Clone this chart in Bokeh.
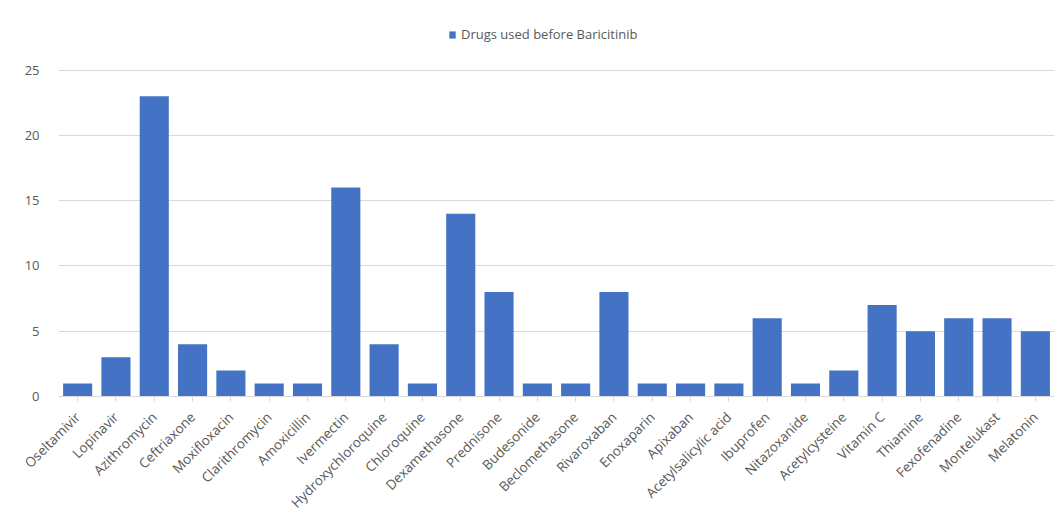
import math
from bokeh.plotting import figure
from bokeh.models import ColumnDataSource, Legend, LegendItem, FactorRange, SingleIntervalTicker
from bokeh.embed import file_html
from bokeh.resources import INLINE

drugs = ["Oseltamivir", "Lopinavir", "Azithromycin", "Ceftriaxone", "Moxifloxacin",
         "Clarithromycin", "Amoxicillin", "Ivermectin", "Hydroxychloroquine", "Chloroquine",
         "Dexamethasone", "Prednisone", "Budesonide", "Beclomethasone", "Rivaroxaban",
         "Enoxaparin", "Apixaban", "Acetylsalicylic acid", "Ibuprofen", "Nitazoxanide",
         "Acetylcysteine", "Vitamin C", "Thiamine", "Fexofenadine", "Montelukast", "Melatonin"]
counts = [1, 3, 23, 4, 2, 1, 1, 16, 4, 1, 14, 8, 1, 1, 8, 1, 1, 1, 6, 1, 2, 7, 5, 6, 6, 5]
series_name = "Drugs used before Baricitinib"

src = ColumnDataSource(dict(drug=drugs, count=counts))

p = figure(width=1062, height=520, x_range=FactorRange(*drugs),
           y_range=(0, 28.8), output_backend="svg", toolbar_location=None,
           min_border_left=58, min_border_right=8, min_border_top=20, min_border_bottom=122)
p.x_range.range_padding = 0
p.x_range.factor_padding = 0
p.outline_line_color = None
p.background_fill_color = "white"

r = p.vbar(x="drug", top="count", width=0.76, source=src, fill_color="#4472C4", line_color=None)

p.xgrid.grid_line_color = None
p.ygrid.grid_line_color = "#d9d9d9"
p.ygrid.grid_line_width = 1

p.yaxis.ticker = SingleIntervalTicker(interval=5)
p.yaxis.axis_line_color = None
p.yaxis.major_tick_line_color = None
p.yaxis.minor_tick_line_color = None
p.yaxis.major_label_text_color = "#595959"
p.yaxis.major_label_text_font = "Open Sans"
p.yaxis.major_label_text_font_size = "13px"
p.yaxis.major_label_standoff = 13

p.xaxis.axis_line_color = "#d9d9d9"
p.xaxis.major_tick_line_color = "#d9d9d9"
p.xaxis.major_tick_in = 0
p.xaxis.major_tick_out = 5
p.xaxis.major_label_orientation = math.pi / 4
p.xaxis.major_label_text_color = "#595959"
p.xaxis.major_label_text_font = "Open Sans"
p.xaxis.major_label_text_font_size = "13.5px"
p.xaxis.major_label_standoff = 13

legend = Legend(items=[LegendItem(label=series_name, renderers=[r])],
                orientation="horizontal", location=(390, 353),
                border_line_color=None, background_fill_alpha=0,
                label_text_font="Open Sans", label_text_font_size="13px",
                label_text_color="#595959", glyph_width=8, glyph_height=9,
                label_standoff=5, padding=0, margin=0)
p.add_layout(legend, "center")

open("out.html", "w").write(file_html(p, INLINE))
